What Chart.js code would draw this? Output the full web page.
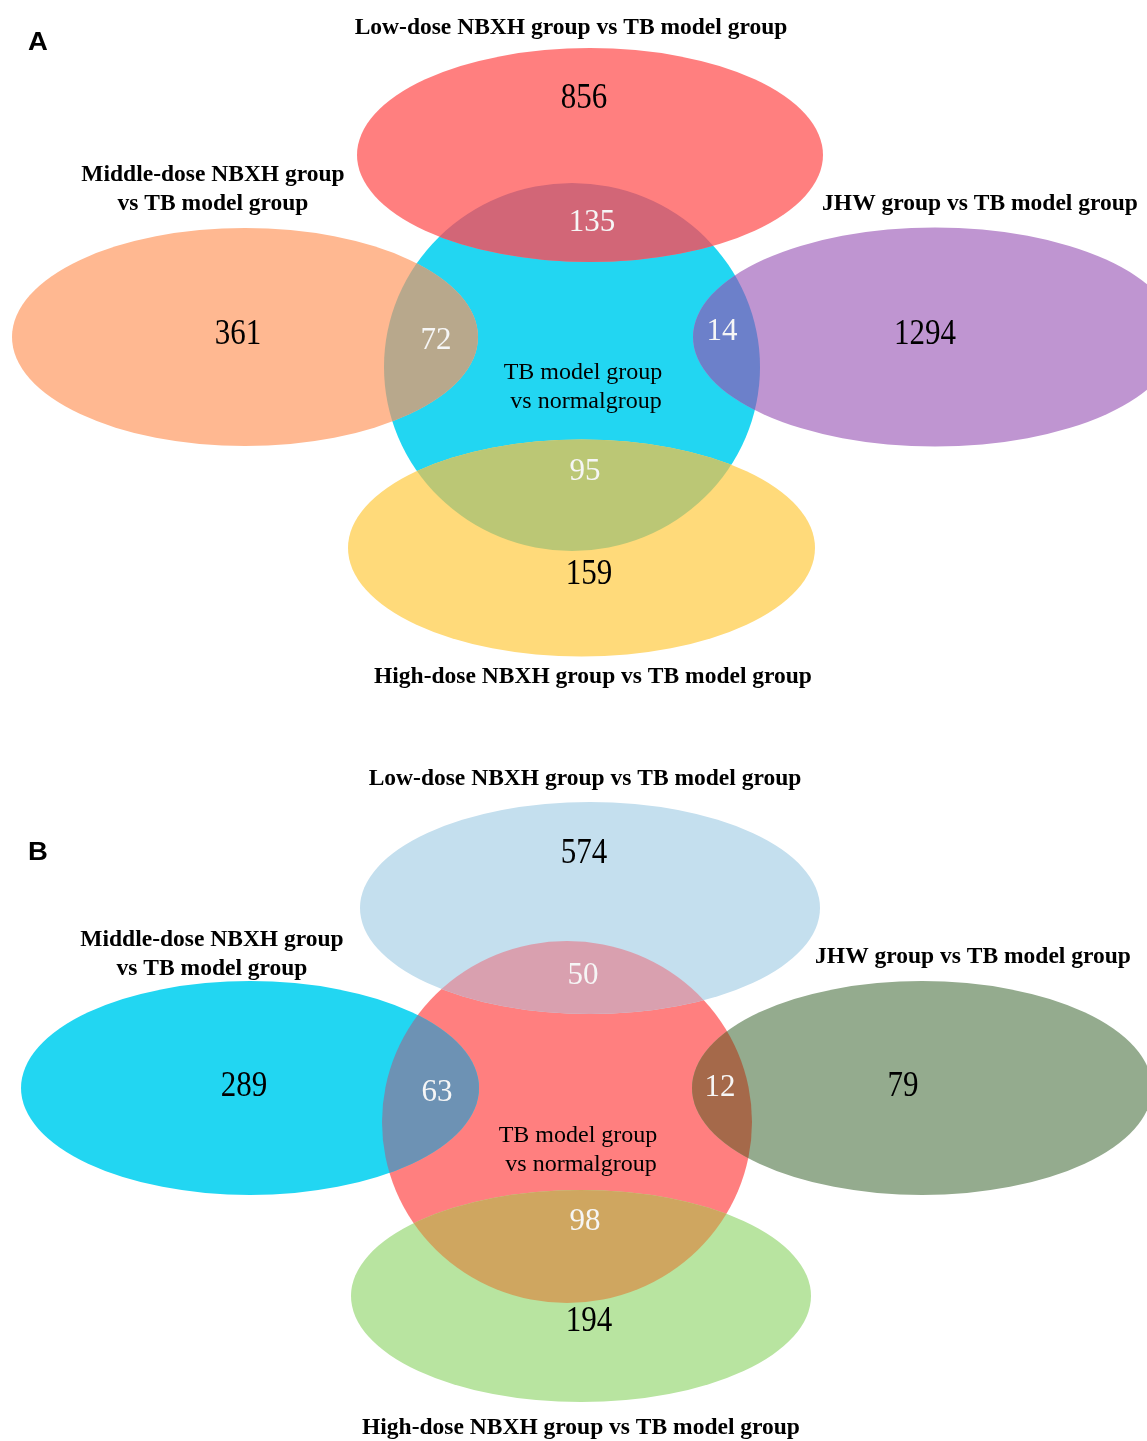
<!DOCTYPE html>
<html>
<head>
<meta charset="utf-8">
<script src="https://cdn.jsdelivr.net/npm/chart.js@4/dist/chart.umd.min.js"></script>
<style>
html,body{margin:0;padding:0;background:#ffffff;}
#wrap{width:1147px;height:1441px;}
</style>
</head>
<body>
<div id="wrap"><canvas id="c" width="1147" height="1441"></canvas></div>
<script>
// ---------- data ----------
const panelLetters = ['A', 'B'];
const setNames = [
  ['Low-dose NBXH group vs TB model group'],
  ['Middle-dose NBXH group', 'vs TB model group'],
  ['JHW group vs TB model group'],
  ['High-dose NBXH group vs TB model group']
];
const centerName = ['TB model group', ' vs normalgroup'];
const uniqueCountsA = [856, 361, 1294, 159];
const sharedCountsA = [135, 72, 14, 95];
const uniqueCountsB = [574, 289, 79, 194];
const sharedCountsB = [50, 63, 12, 98];

// ---------- layout (data units of the linear scales) ----------
const layoutA = {
  letter: [38, 43],
  center: { cx: 572, cy: 367, rx: 188, ry: 184 },
  sets: [
    { cx: 590, cy: 155, rx: 233, ry: 107 },
    { cx: 245, cy: 337, rx: 233, ry: 109 },
    { cx: 935, cy: 337, rx: 242, ry: 109.5 },
    { cx: 581.5, cy: 548, rx: 233.5, ry: 108.5 }
  ],
  uniquePos: [[584, 99], [238, 335], [925, 335], [589, 575]],
  sharedPos: [[592, 223], [436, 341], [722, 332], [585, 472]],
  centerPos: [583, 373, 29],
  namePos: [[571, 28], [213, 175], [980, 204], [593, 677]]
};
const layoutB = {
  letter: [38, 853],
  center: { cx: 567, cy: 1122, rx: 185, ry: 181 },
  sets: [
    { cx: 590, cy: 908, rx: 230, ry: 106 },
    { cx: 250, cy: 1088, rx: 229, ry: 107 },
    { cx: 922, cy: 1088, rx: 230, ry: 107 },
    { cx: 581, cy: 1296, rx: 230, ry: 106 }
  ],
  uniquePos: [[584, 854], [244, 1087], [903, 1087], [589, 1322]],
  sharedPos: [[583, 976], [437, 1093], [720, 1088], [585, 1222]],
  centerPos: [578, 1136, 29],
  namePos: [[585, 779], [212, 940], [973, 957], [581, 1428]]
};
const stylesA = {
  center: '#22d6f2',
  sets: ['#ff7f7f', '#ffb891', '#bf95d1', '#ffda7a'],
  overlaps: ['#d26677', '#b8a88c', '#6c80ca', '#bbc775']
};
const stylesB = {
  center: '#ff7f7f',
  sets: ['#c4dfee', '#22d6f2', '#94ab8e', '#b8e4a0'],
  overlaps: ['#d9a0af', '#6d92b4', '#a5694a', '#cfa660']
};

const panels = [
  { letter: panelLetters[0], unique: uniqueCountsA, shared: sharedCountsA, layout: layoutA, style: stylesA },
  { letter: panelLetters[1], unique: uniqueCountsB, shared: sharedCountsB, layout: layoutB, style: stylesB }
];

const vennPlugin = {
  id: 'venn',
  afterDraw(chart) {
    const ctx = chart.ctx;
    const xs = chart.scales.x, ys = chart.scales.y;
    const X = v => xs.getPixelForValue(v);
    const Y = v => ys.getPixelForValue(v);
    const RX = r => Math.abs(xs.getPixelForValue(r) - xs.getPixelForValue(0));
    const RY = r => Math.abs(ys.getPixelForValue(r) - ys.getPixelForValue(0));
    const ellPath = e => {
      ctx.beginPath();
      ctx.ellipse(X(e.cx), Y(e.cy), RX(e.rx), RY(e.ry), 0, 0, Math.PI * 2);
    };
    const text = (str, x, y, font, color, sx, sy) => {
      ctx.save();
      ctx.font = font;
      ctx.fillStyle = color;
      ctx.textAlign = 'center';
      ctx.textBaseline = 'middle';
      ctx.translate(X(x), Y(y));
      ctx.scale(sx || 1, sy || 1);
      ctx.fillText(str, 0, 0);
      ctx.restore();
    };
    ctx.save();
    panels.forEach(p => {
      const L = p.layout, S = p.style;
      // center set
      ellPath(L.center);
      ctx.fillStyle = S.center;
      ctx.fill();
      // outer sets and their overlaps with the center set
      L.sets.forEach((e, i) => {
        ellPath(e);
        ctx.fillStyle = S.sets[i];
        ctx.fill();
        ctx.save();
        ellPath(e);
        ctx.clip();
        ellPath(L.center);
        ctx.fillStyle = S.overlaps[i];
        ctx.fill();
        ctx.restore();
      });
      // counts
      p.unique.forEach((v, i) => {
        text(String(v), L.uniquePos[i][0], L.uniquePos[i][1], '31px "Liberation Serif"', '#000000', 1, 1.15);
      });
      p.shared.forEach((v, i) => {
        text(String(v), L.sharedPos[i][0], L.sharedPos[i][1], '31px "Liberation Serif"', '#f6f6f6');
      });
      // center name
      centerName.forEach((s, k) => {
        text(s, L.centerPos[0], L.centerPos[1] + k * L.centerPos[2], '24px "Liberation Serif"', '#000000');
      });
      // set names
      setNames.forEach((lines, i) => {
        lines.forEach((s, k) => {
          text(s, L.namePos[i][0], L.namePos[i][1] + k * 29, 'bold 23.5px "Liberation Serif"', '#000000');
        });
      });
      // panel letter
      text(p.letter, L.letter[0], L.letter[1], 'bold 25px "Liberation Sans"', '#000000', 1.1, 1);
    });
    ctx.restore();
  }
};

new Chart(document.getElementById('c'), {
  type: 'scatter',
  data: { datasets: [{ data: [], pointRadius: 0 }] },
  options: {
    responsive: false,
    animation: false,
    devicePixelRatio: 1,
    layout: { padding: 0 },
    plugins: { legend: { display: false }, tooltip: { enabled: false }, title: { display: false } },
    scales: {
      x: { type: 'linear', min: 0, max: 1147, display: false },
      y: { type: 'linear', min: 0, max: 1441, reverse: true, display: false }
    }
  },
  plugins: [vennPlugin]
});
</script>
</body>
</html>
